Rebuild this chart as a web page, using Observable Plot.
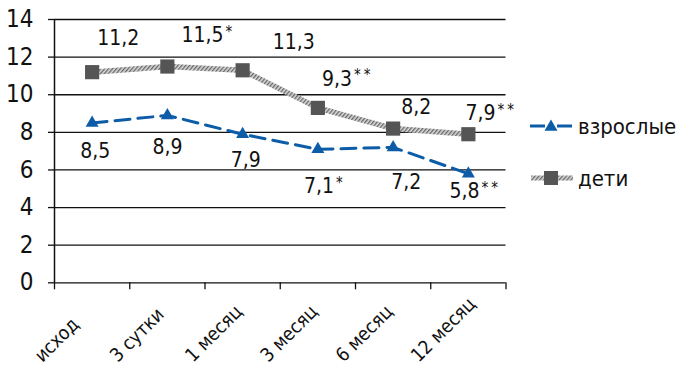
<!DOCTYPE html>
<html>
<head>
<meta charset="utf-8">
<script src="https://cdn.jsdelivr.net/npm/d3@7"></script>
<script src="https://cdn.jsdelivr.net/npm/@observablehq/plot@0.6"></script>
<style>
  body { margin: 0; background: #fff; }
  #chart { width: 682px; height: 367px; }
  #chart svg { font-family: "Liberation Sans Narrow", "DejaVu Sans Condensed", "Roboto Condensed", sans-serif; }
</style>
</head>
<body>
<div id="chart"></div>
<script>
// Observation points
const categories = ["исход", "3 сутки", "1 месяц", "3 месяц", "6 месяц", "12 месяц"];
// Mean values per group
const adults   = [8.5, 8.9, 7.9, 7.1, 7.2, 5.8];
const children = [11.2, 11.5, 11.3, 9.3, 8.2, 7.9];
// Significance marks appended to the value labels
const adultStars = ["", "", "", "*", "", "**"];
const childStars = ["", "*", "", "**", "", "**"];
// Y axis ticks
const yTicks = [0, 2, 4, 6, 8, 10, 12, 14];
// Series names
const seriesNames = ["взрослые", "дети"];

// Label placement (pixels, relative to each point)
const adultLabelOffset = [[-12, 28], [-15, 32], [-12, 26], [-14, 37], [-2, 35], [-19, 18]];
const childLabelOffset = [[5, -34], [14, -31], [30, -28], [4, -29], [8, -21], [-3, -21]];

const BLUE = "#0d5ca8";
const SQUARE = "#555555";

const rows = categories.map((c, i) => ({i, cat: c, adults: adults[i], children: children[i]}));
const fmt = v => v.toFixed(1).replace(".", ",");
const bounds = d3.range(categories.length + 1).map(k => k - 0.5);

const labelMarks = [];
rows.forEach((d, i) => {
  labelMarks.push(Plot.text([d], {
    x: "i", y: "adults", text: r => fmt(r.adults) + adultStars[i],
    textAnchor: "start", dx: adultLabelOffset[i][0], dy: adultLabelOffset[i][1],
    fontSize: 21, fill: "#111", className: "vlabel"
  }));
  labelMarks.push(Plot.text([d], {
    x: "i", y: "children", text: r => fmt(r.children) + childStars[i],
    textAnchor: "start", dx: childLabelOffset[i][0], dy: childLabelOffset[i][1],
    fontSize: 21, fill: "#111", className: "vlabel"
  }));
});

const chart = Plot.plot({
  width: 682,
  height: 367,
  marginLeft: 54,
  marginRight: 176.5,
  marginTop: 19,
  marginBottom: 84.7,
  x: {type: "linear", domain: [-0.5, categories.length - 0.5], axis: null},
  y: {domain: [0, 14]},
  marks: [
    Plot.ruleY(yTicks, {stroke: "#111", strokeWidth: 1.3}),
    Plot.ruleX([-0.5], {stroke: "#111", strokeWidth: 1.5}),
    Plot.axisY({ticks: yTicks, tickSize: 6, tickPadding: 15, fontSize: 24, label: null,
                stroke: "#111", strokeWidth: 1.3, color: "#111"}),
    // tick marks at the category boundaries
    Plot.axisX({ticks: bounds, tickSize: 7, tickFormat: () => "", label: null,
                stroke: "#111", strokeWidth: 1.3}),
    // slanted category names under each point
    Plot.text(rows, {x: "i", text: "cat", frameAnchor: "bottom", rotate: -45,
                     textAnchor: "start", lineAnchor: "middle", dx: -54, dy: 76,
                     fontSize: 19, fill: "#111"}),
    Plot.line(rows, {x: "i", y: "children", stroke: "#999", strokeWidth: 5.5, className: "hatched"}),
    Plot.dot(rows, {x: "i", y: "children", symbol: "square", r: 8, fill: SQUARE, stroke: "none"}),
    Plot.line(rows, {x: "i", y: "adults", stroke: BLUE, strokeWidth: 3, strokeDasharray: "15,8"}),
    Plot.dot(rows, {x: "i", y: "adults", symbol: "triangle2", r: 6.2, fill: BLUE, stroke: "none"}),
    ...labelMarks
  ]
});

const svg = d3.select(chart);

// Hatched texture for the children line
const defs = svg.insert("defs", ":first-child");
const pat = defs.append("pattern").attr("id", "hatch").attr("patternUnits", "userSpaceOnUse")
  .attr("width", 3).attr("height", 3).attr("patternTransform", "rotate(40)");
pat.append("rect").attr("width", 3).attr("height", 3).attr("fill", "#d8d8d8");
pat.append("rect").attr("width", 1.3).attr("height", 3).attr("fill", "#666");
svg.selectAll(".hatched path").attr("stroke", "url(#hatch)");

// Smaller raised asterisks on value labels
svg.selectAll(".vlabel text").each(function () {
  const t = this.textContent;
  const m = t.match(/^([^*]+)(\*+)$/);
  if (!m) return;
  const el = d3.select(this);
  el.text(m[1]);
  el.append("tspan").attr("font-size", 15).attr("dy", "-0.35em").attr("dx", 2)
    .attr("letter-spacing", 3).text(m[2]);
});

// Legend to the right of the plot area
const lg = svg.append("g").attr("font-size", 22).attr("fill", "#111").attr("text-anchor", "start");
const items = [
  {name: seriesNames[0], y: 126, kind: "adults"},
  {name: seriesNames[1], y: 178, kind: "children"}
];
items.forEach(it => {
  const g = lg.append("g").attr("transform", `translate(0,${it.y})`);
  if (it.kind === "adults") {
    g.append("line").attr("x1", 530).attr("x2", 545).attr("stroke", BLUE).attr("stroke-width", 3);
    g.append("line").attr("x1", 557).attr("x2", 572).attr("stroke", BLUE).attr("stroke-width", 3);
    g.append("path").attr("d", d3.symbol(d3.symbolTriangle2, 6.2 * 6.2 * Math.PI)())
      .attr("transform", "translate(551,1)").attr("fill", BLUE);
  } else {
    g.append("line").attr("x1", 531).attr("x2", 573).attr("stroke", "url(#hatch)").attr("stroke-width", 5);
    g.append("rect").attr("x", 544).attr("y", -7).attr("width", 14).attr("height", 14).attr("fill", SQUARE);
  }
  g.append("text").attr("x", 578).attr("dy", "0.35em").text(it.name);
});

document.getElementById("chart").appendChild(chart);
</script>
</body>
</html>
